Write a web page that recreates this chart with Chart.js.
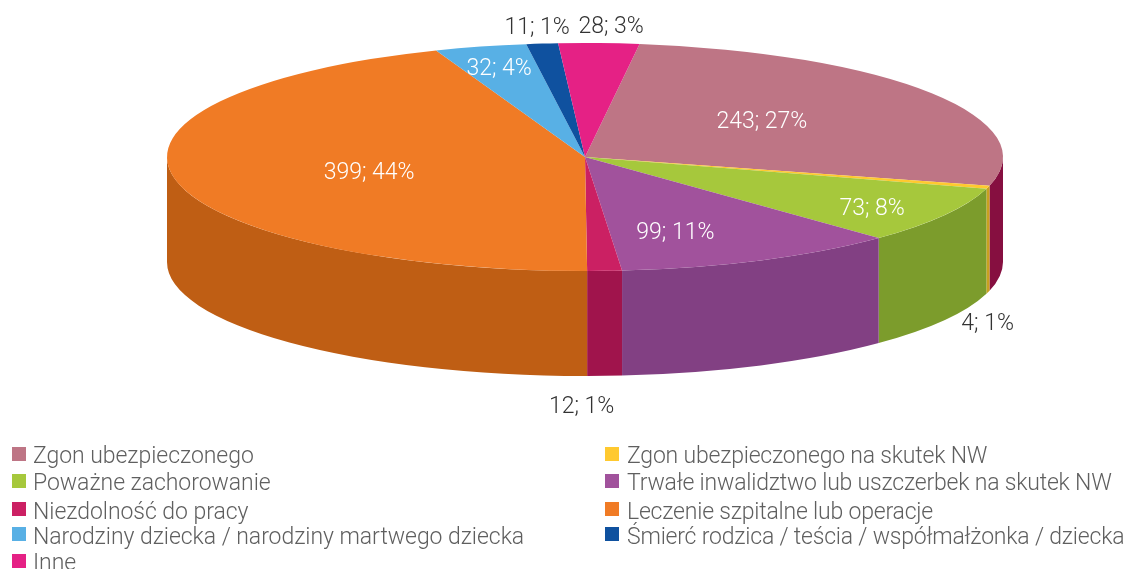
<!DOCTYPE html>
<html lang="pl">
<head>
<meta charset="utf-8">
<style>html,body{margin:0;padding:0;background:#fff;overflow:hidden}canvas{display:block}</style>
<script src="https://cdn.jsdelivr.net/npm/chart.js@4/dist/chart.umd.min.js"></script>
</head>
<body>
<canvas id="c" width="1124" height="569" style="width:1124px;height:569px"></canvas>
<script>
const categories = ["Zgon ubezpieczonego","Zgon ubezpieczonego na skutek NW","Poważne zachorowanie","Trwałe inwalidztwo lub uszczerbek na skutek NW","Niezdolność do pracy","Leczenie szpitalne lub operacje","Narodziny dziecka / narodziny martwego dziecka","Śmierć rodzica / teścia / współmałżonka / dziecka","Inne"];
const counts = [243,4,73,99,12,399,32,11,28];
const percents = [27,1,8,11,1,44,4,1,3];
const topColors = ["#BE7585","#FFC92F","#A6C83C","#A1529C","#CB2063","#F07B25","#58B0E5","#0F519F","#E52185"];
const wallColors = ["#860F40","#C9A020","#7C9C2C","#824083","#A0144C","#BF5E14","#3A8AC0","#0A3A78","#A01560"];
const labelRadius = [0.533,1.74,0.815,0.69,2.175,0.531,0.816,1.155,1.155];
const labelAngleNudge = [-3.5,41,1.8,6.6,2.9,-2.8,-0.1,0.2,1.2];
const labelIsInside = [true,false,true,true,false,true,true,false,false];

const geo = {cx:585, cy:157, rx:418, ry:114, depth:105};
const FONT = '300 23px Roboto';

const pie3d = {
  id:'pie3d',
  beforeDatasetsDraw(chart){
    const ctx = chart.ctx, arcs = chart.getDatasetMeta(0).data;
    const {cx,cy,rx,ry,depth} = geo;
    ctx.save();
    arcs.forEach((arc,i)=>{
      const a = Math.max(arc.startAngle,0), b = Math.min(arc.endAngle,Math.PI);
      if(b<=a) return;
      ctx.beginPath();
      ctx.ellipse(cx,cy,rx,ry,0,a,b,false);
      ctx.ellipse(cx,cy+depth,rx,ry,0,b,a,true);
      ctx.closePath();
      ctx.fillStyle = wallColors[i];
      ctx.fill();
    });
    ctx.restore();
    const arc0 = arcs[0], R = arc0.outerRadius;
    ctx.save();
    ctx.translate(cx,cy);
    ctx.scale(rx/R,ry/R);
    ctx.translate(-arc0.x,-arc0.y);
  },
  afterDatasetsDraw(chart){
    const ctx = chart.ctx;
    ctx.restore();
    drawLabels(chart);
    drawLegend(chart);
  }
};

function drawLabels(chart){
  const ctx = chart.ctx, arcs = chart.getDatasetMeta(0).data;
  ctx.save();
  ctx.font = FONT; ctx.letterSpacing = '0px';
  ctx.textAlign='center'; ctx.textBaseline='middle';
  arcs.forEach((arc,i)=>{
    const t = (arc.startAngle+arc.endAngle)/2 + labelAngleNudge[i]*Math.PI/180;
    const x = geo.cx + Math.cos(t)*labelRadius[i]*geo.rx;
    const y = geo.cy + Math.sin(t)*labelRadius[i]*geo.ry + 2;
    ctx.fillStyle = labelIsInside[i] ? '#ffffff' : '#333333';
    ctx.fillText(counts[i]+'; '+percents[i]+'%', x, y);
  });
  ctx.restore();
}

function drawLegend(chart){
  const ctx = chart.ctx;
  const swatchTops = [447,474,502,527,554], baselines = [463,490,519,544,570];
  const swatchX = [12,605], textX = [33,627], tracking = ['-0.05px','-0.2px'];
  ctx.save();
  ctx.font = FONT;
  ctx.textAlign='left'; ctx.textBaseline='alphabetic';
  chart.data.labels.forEach((t,i)=>{
    const c = i%2, r = Math.floor(i/2);
    ctx.fillStyle = topColors[i];
    ctx.fillRect(swatchX[c],swatchTops[r],14,14);
    ctx.letterSpacing = tracking[c];
    ctx.fillStyle = '#5f5f5f';
    ctx.fillText(t,textX[c],baselines[r]);
  });
  ctx.restore();
}

new Chart(document.getElementById('c'),{
  type:'pie',
  data:{labels:categories,datasets:[{data:counts,backgroundColor:topColors,borderWidth:0,clip:false}]},
  options:{
    responsive:false,animation:false,rotation:7.5,
    layout:{padding:0},
    plugins:{legend:{display:false},tooltip:{enabled:false},title:{display:false}}
  },
  plugins:[pie3d]
});
</script>
</body>
</html>
